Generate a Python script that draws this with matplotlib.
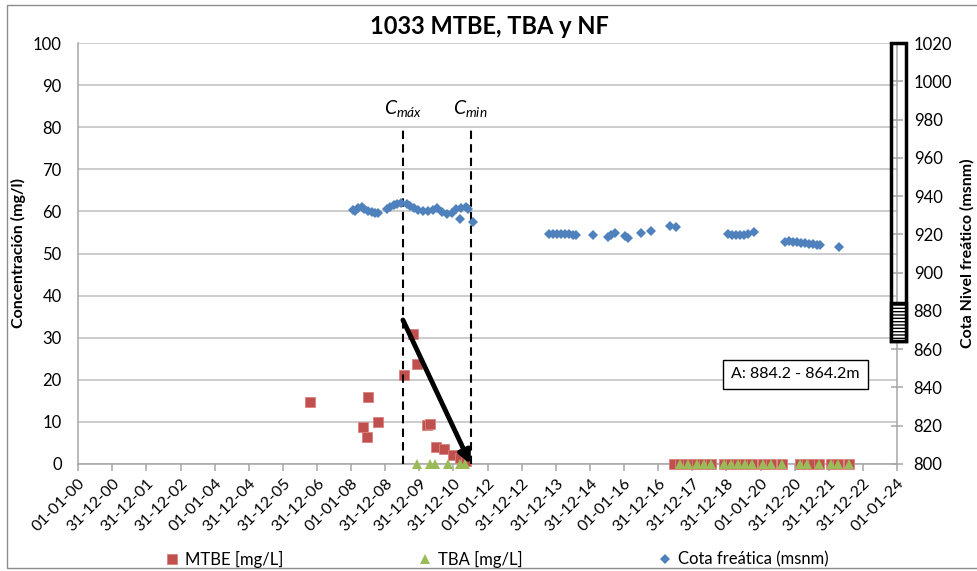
import datetime as dt

import matplotlib
matplotlib.use("Agg")
import matplotlib.pyplot as plt
import matplotlib.dates as mdates
import matplotlib.patches as mpatches
from matplotlib.transforms import blended_transform_factory

plt.rcParams['font.family'] = ['Lato', 'DejaVu Sans']
plt.rcParams['mathtext.fontset'] = 'custom'
plt.rcParams['mathtext.it'] = 'Lato:italic'
plt.rcParams['mathtext.rm'] = 'Lato'

# MTBE [mg/L]
mtbe_dates = ['2006-10-12', '2008-05-05', '2008-06-14', '2008-06-24', '2008-10-13',
              '2009-07-18', '2009-10-19', '2009-12-01', '2010-03-24', '2010-04-22',
              '2010-06-22', '2010-09-16', '2010-12-30', '2011-03-09', '2011-05-10',
              '2017-06-16', '2017-08-19', '2017-11-13', '2018-02-17', '2018-05-03',
              '2018-07-17', '2018-12-03', '2019-02-16', '2019-05-02', '2019-07-16',
              '2019-09-29', '2020-01-24', '2020-04-19', '2020-08-20', '2021-02-23',
              '2021-05-09', '2021-07-12', '2021-09-15', '2022-01-21', '2022-04-06',
              '2022-08-01']
mtbe_vals = [14.8, 8.8, 6.4, 16.0, 10.0,
             21.1, 30.9, 23.8, 9.3, 9.4,
             4.0, 3.5, 2.1, 1.4, 0.6,
             0, 0, 0, 0, 0,
             0, 0, 0, 0, 0,
             0, 0, 0, 0, 0,
             0, 0, 0, 0, 0,
             0]

# TBA [mg/L]
tba_dates = ['2009-12-01', '2010-04-22', '2010-06-15', '2010-11-04', '2011-03-09',
             '2011-05-01', '2017-08-19', '2017-11-13', '2018-02-17', '2018-05-03',
             '2018-07-17', '2018-12-03', '2019-02-16', '2019-05-02', '2019-07-16',
             '2019-09-29', '2020-01-24', '2020-04-19', '2020-08-20', '2021-02-23',
             '2021-05-09', '2021-09-15', '2022-01-21', '2022-04-06', '2022-08-01']
tba_vals = [0] * 25

# Cota freática (msnm)
cota_dates = ['2008-01-16', '2008-02-09', '2008-03-16', '2008-04-21', '2008-05-16',
              '2008-07-01', '2008-08-06', '2008-09-11', '2008-10-16', '2009-01-14',
              '2009-02-18', '2009-04-02', '2009-05-07', '2009-06-13', '2009-08-16',
              '2009-09-20', '2009-11-02', '2009-12-18', '2010-02-10', '2010-04-04',
              '2010-05-28', '2010-07-09', '2010-08-25', '2010-10-18', '2010-12-11',
              '2011-01-25', '2011-03-09', '2011-03-27', '2011-05-13', '2011-06-06',
              '2011-07-30',
              '2013-10-17', '2013-11-29', '2014-01-11', '2014-02-22', '2014-04-06',
              '2014-05-19', '2014-07-01', '2014-08-09', '2015-02-03', '2015-07-13',
              '2015-08-19', '2015-09-23', '2016-01-08', '2016-02-13', '2016-07-05',
              '2016-10-20', '2017-05-04', '2017-07-15',
              '2019-01-15', '2019-02-27', '2019-04-10', '2019-05-23', '2019-07-05',
              '2019-08-17', '2019-10-20',
              '2020-09-16', '2020-10-28', '2020-12-10', '2021-01-22', '2021-03-06',
              '2021-04-18', '2021-05-31', '2021-07-13', '2021-08-24', '2021-09-25',
              '2022-04-20']
cota_vals = [932.7, 932.4, 933.6, 934.1, 933.1,
             932.2, 931.8, 931.3, 931.0, 933.1,
             934.1, 935.2, 935.9, 936.2, 935.9,
             934.8, 933.6, 932.7, 932.1, 932.1,
             932.7, 933.6, 931.8, 930.5, 931.0,
             933.1, 928.0, 933.6, 934.1, 933.4,
             926.3,
             920.2, 920.4, 920.0, 920.3, 920.1,
             920.4, 919.9, 919.5, 919.7, 918.8,
             919.7, 920.9, 919.1, 917.9, 920.6,
             921.9, 924.4, 923.7,
             920.0, 919.6, 919.6, 919.8, 919.9,
             920.4, 921.4,
             916.2, 916.3, 916.0, 915.9, 915.6,
             915.5, 915.1, 914.8, 914.5, 914.3,
             913.6]

# fechas de concentracion maxima y minima, flecha de descenso
c_max_date = '2009-07-08'
c_min_date = '2011-07-02'
arrow_start_val = 34.2

# tramo ranurado del pozo
screen_top = 884.2
screen_bottom = 864.2


def to_dates(lst):
    return [dt.datetime.strptime(s, '%Y-%m-%d') for s in lst]


GRID = '#bfbfbf'
AXIS = '#a6a6a6'

fig = plt.figure(figsize=(9.78, 5.71), dpi=100)
ax = fig.add_axes([78.3 / 978, 1 - 464 / 571, (897 - 78.3) / 978, 421 / 571])
ax2 = ax.twinx()

ax.plot(to_dates(mtbe_dates), mtbe_vals, 's', color='#c0504d', ms=6.5, mec='#d9837f', mew=0.6,
        label='MTBE [mg/L]', clip_on=False, zorder=3)
ax.plot(to_dates(tba_dates), tba_vals, '^', color='#9bbb59', ms=7, mew=0,
        label='TBA [mg/L]', clip_on=False, zorder=4)
ax2.plot(to_dates(cota_dates), cota_vals, 'D', color='#4f81bd', ms=5, mew=0,
         label='Cota freática (msnm)', zorder=3)

# ejes
x0 = dt.datetime(2000, 1, 1)
ticks = [x0 + dt.timedelta(days=int(k * 365.25)) for k in range(25)]
ax.set_xlim(ticks[0], ticks[-1])
ax.set_xticks(ticks)
ax.xaxis.set_major_formatter(mdates.DateFormatter('%d-%m-%y'))
for lbl in ax.get_xticklabels():
    lbl.set_rotation(45)
    lbl.set_ha('right')
    lbl.set_va('top')
    lbl.set_rotation_mode('anchor')

ax.set_ylim(0, 100)
ax.set_yticks(range(0, 101, 10))
ax2.set_ylim(800, 1020)
ax2.set_yticks(range(800, 1021, 20))

ax.grid(axis='y', color=GRID, lw=1.1)
ax.set_axisbelow(True)

for s in ['top', 'right']:
    ax.spines[s].set_visible(False)
for s in ['top', 'left', 'bottom']:
    ax2.spines[s].set_visible(False)
ax.spines['left'].set_color(AXIS)
ax.spines['bottom'].set_color(AXIS)
ax2.spines['right'].set_color(AXIS)
for sp in [ax.spines['left'], ax.spines['bottom'], ax2.spines['right']]:
    sp.set_linewidth(1.1)

ax.tick_params(axis='y', length=0, pad=12, labelsize=12)
ax.tick_params(axis='x', length=5, width=1.1, color=AXIS, pad=4, labelsize=11.5)
ax2.tick_params(axis='y', direction='inout', length=8, width=1.1, color=AXIS, pad=8, labelsize=12)

ax.set_ylabel('Concentración (mg/l)', fontsize=11.5, fontweight='bold', labelpad=5)
ax2.set_ylabel('Cota Nivel freático (msnm)', fontsize=11.5, fontweight='bold', labelpad=6)

fig.text(0.5, 1 - 27 / 571, '1033 MTBE, TBA y NF', ha='center', va='center',
         fontsize=17, fontweight='bold')

# lineas de Cmax / Cmin y flecha
cmax = dt.datetime.strptime(c_max_date, '%Y-%m-%d')
cmin = dt.datetime.strptime(c_min_date, '%Y-%m-%d')
for d in [cmax, cmin]:
    ax.plot([d, d], [0, 80], color='black', lw=1.5, ls=(0, (4, 2.5)), zorder=5, clip_on=False)
ax.text(cmax, 84.5, r'$C_{máx}$', ha='center', va='center', fontsize=14)
ax.text(cmin, 84.5, r'$C_{min}$', ha='center', va='center', fontsize=14)
ax.annotate('', xy=(cmin, 0), xytext=(cmax, arrow_start_val),
            arrowprops=dict(arrowstyle='-|>', color='black', lw=3.5, mutation_scale=18,
                            shrinkA=0, shrinkB=0), zorder=6, annotation_clip=False)

ax.text(0.876, 0.2126, 'A: 884.2 - 864.2m', transform=ax.transAxes, ha='center', va='center',
        fontsize=11.5, bbox=dict(boxstyle='square,pad=0.5', fc='white', ec='black', lw=1))

# esquema del pozo junto al eje derecho
tr = blended_transform_factory(ax2.transAxes, ax2.transData)
wx0 = (891 - 78.3) / 819
ww = (906 - 891) / 819
ax2.add_patch(mpatches.Rectangle((wx0, screen_bottom), ww, 1020 - screen_bottom, transform=tr,
                                 fc='none', ec='black', lw=2.5, clip_on=False, zorder=6))
ax2.add_patch(mpatches.Rectangle((wx0, screen_bottom), ww, screen_top - screen_bottom, transform=tr,
                                 fc='white', ec='black', lw=2.5, hatch='-----', clip_on=False, zorder=6))

# leyenda
h1, l1 = ax.get_legend_handles_labels()
h2, l2 = ax2.get_legend_handles_labels()
fig.legend(h1 + h2, l1 + l2, loc='center', bbox_to_anchor=(0.507, 1 - 559 / 571), ncol=3,
           frameon=False, fontsize=12, handlelength=1, handletextpad=0.3, columnspacing=8.0)

# marco del grafico
fig.add_artist(mpatches.Rectangle((7 / 978, 1 - 568 / 571), 1.0, (568 - 5) / 571,
                                  transform=fig.transFigure, fc='none', ec='#8c8c8c', lw=1))

fig.savefig('out.png', dpi=100)
